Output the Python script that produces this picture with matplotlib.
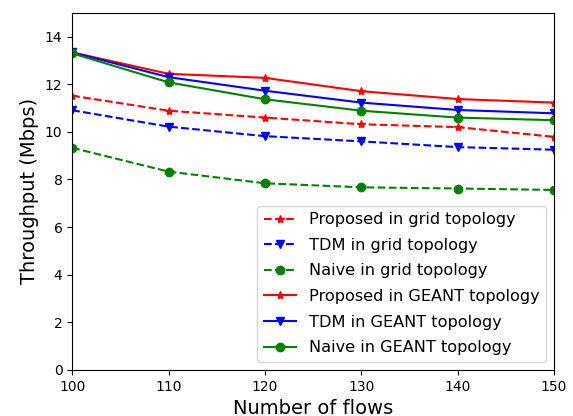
import numpy as np
import matplotlib
matplotlib.use("Agg")
import matplotlib.pyplot as plt

flows = [100, 110, 120, 130, 140, 150]

# grid topology (dashed)
proposed_grid = [11.52, 10.89, 10.60, 10.32, 10.20, 9.79]
tdm_grid = [10.91, 10.22, 9.82, 9.60, 9.36, 9.25]
naive_grid = [9.33, 8.33, 7.84, 7.67, 7.62, 7.56]

# GEANT topology (solid)
proposed_geant = [13.34, 12.44, 12.27, 11.71, 11.38, 11.23]
tdm_geant = [13.34, 12.30, 11.73, 11.23, 10.92, 10.78]
naive_geant = [13.30, 12.08, 11.37, 10.89, 10.60, 10.49]

fig = plt.figure(figsize=(5.73, 4.16), dpi=100)
ax = fig.add_axes([0.126, 0.111, 0.841, 0.858])

ax.plot(flows, proposed_grid, 'r--*', label="Proposed in grid topology")
ax.plot(flows, tdm_grid, 'b--v', label="TDM in grid topology")
ax.plot(flows, naive_grid, 'g--o', label="Naive in grid topology")
ax.plot(flows, proposed_geant, 'r-*', label="Proposed in GEANT topology")
ax.plot(flows, tdm_geant, 'b-v', label="TDM in GEANT topology")
ax.plot(flows, naive_geant, 'g-o', label="Naive in GEANT topology")

ax.set_xlim(100, 150)
ax.set_ylim(0, 15)
ax.set_yticks([0, 2, 4, 6, 8, 10, 12, 14])
ax.set_xlabel("Number of flows", fontsize=14)
ax.set_ylabel("Throughput (Mbps)", fontsize=14)
ax.legend(loc='lower right', fontsize=11.6, labelspacing=0.66)

fig.savefig("out.png", dpi=100)
